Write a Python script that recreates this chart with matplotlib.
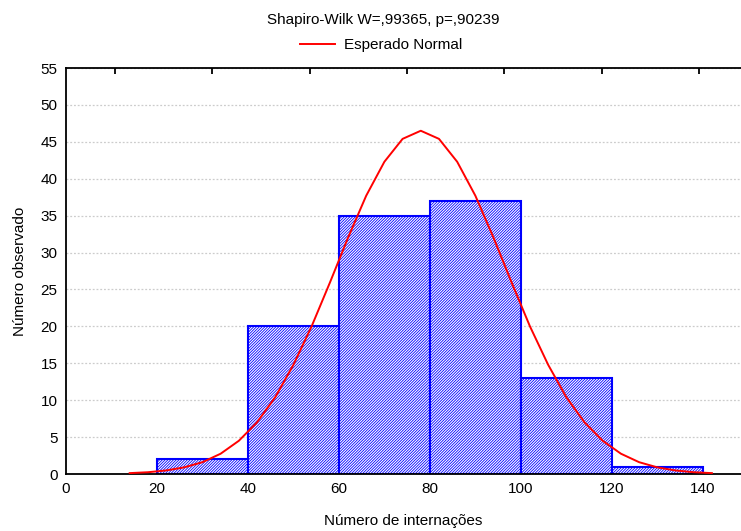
import numpy as np
import matplotlib
matplotlib.use('Agg')
import matplotlib.pyplot as plt

# histogram counts (bin edges every 20)
bin_left = [20, 40, 60, 80, 100, 120]
counts = [2, 20, 35, 37, 13, 1]
bin_width = 20

# expected normal curve
curve_x = [14, 18, 22, 26, 30, 34, 38, 42, 46, 50, 54, 58, 62, 66, 70, 74, 78,
           82, 86, 90, 94, 98, 102, 106, 110, 114, 118, 122, 126, 130, 134, 138, 142]
curve_y = [0.12, 0.24, 0.48, 0.9, 1.6, 2.75, 4.5, 7.0, 10.4, 14.8, 20.0, 25.9, 32.0, 37.7, 42.3, 45.4, 46.5,
           45.4, 42.3, 37.7, 32.0, 25.9, 20.0, 14.8, 10.4, 7.0, 4.5, 2.75, 1.6, 0.9, 0.48, 0.24, 0.12]

plt.rcParams['font.family'] = ['Liberation Sans', 'DejaVu Sans']
plt.rcParams['hatch.linewidth'] = 0.6

fig = plt.figure(figsize=(7.41, 5.31), dpi=100)
ax = fig.add_axes([66/741, 57/531, 1 - 66/741, (474-68)/531])

ax.bar(bin_left, counts, width=bin_width, align='edge', color='white',
       edgecolor='#0000ff', hatch='////////////', linewidth=1.5, zorder=2)
line, = ax.plot(curve_x, curve_y, color='#ff0000', lw=1.4, zorder=3)

ax.set_xlim(0, 148.4)
ax.set_ylim(0, 55)
ax.set_xticks(range(0, 141, 20))
ax.set_yticks(range(0, 56, 5))
ax.tick_params(axis='both', length=0, labelsize=11, pad=6)
ax.yaxis.grid(True, color='#cccccc', linestyle=(0, (1.5, 1.5)), lw=0.9, zorder=0)
ax.set_axisbelow(True)
ax.spines['right'].set_visible(False)
for s in ['left', 'top', 'bottom']:
    ax.spines[s].set_linewidth(1.3)

# little ticks on the top edge
top = ax.twiny()
top.set_xlim(ax.get_xlim())
top.set_xticks([10.8, 32.2, 53.6, 75.0, 96.4, 117.8, 139.2])
top.set_xticklabels([])
top.tick_params(axis='x', direction='in', length=4, width=1.3)
for s in top.spines.values():
    s.set_visible(False)

ax.set_xlabel('Número de internações', fontsize=11, labelpad=13)
ax.set_ylabel('Número observado', fontsize=11, labelpad=10)

fig.text(383/741, 1 - 20/531, 'Shapiro-Wilk W=,99365, p=,90239', ha='center', va='center', fontsize=11)
fig.legend([line], ['Esperado Normal'], loc='center', bbox_to_anchor=(381/741, 1 - 45/531),
           frameon=False, fontsize=11, handlelength=2.3, handletextpad=0.6)

fig.savefig('out.png', dpi=100)
